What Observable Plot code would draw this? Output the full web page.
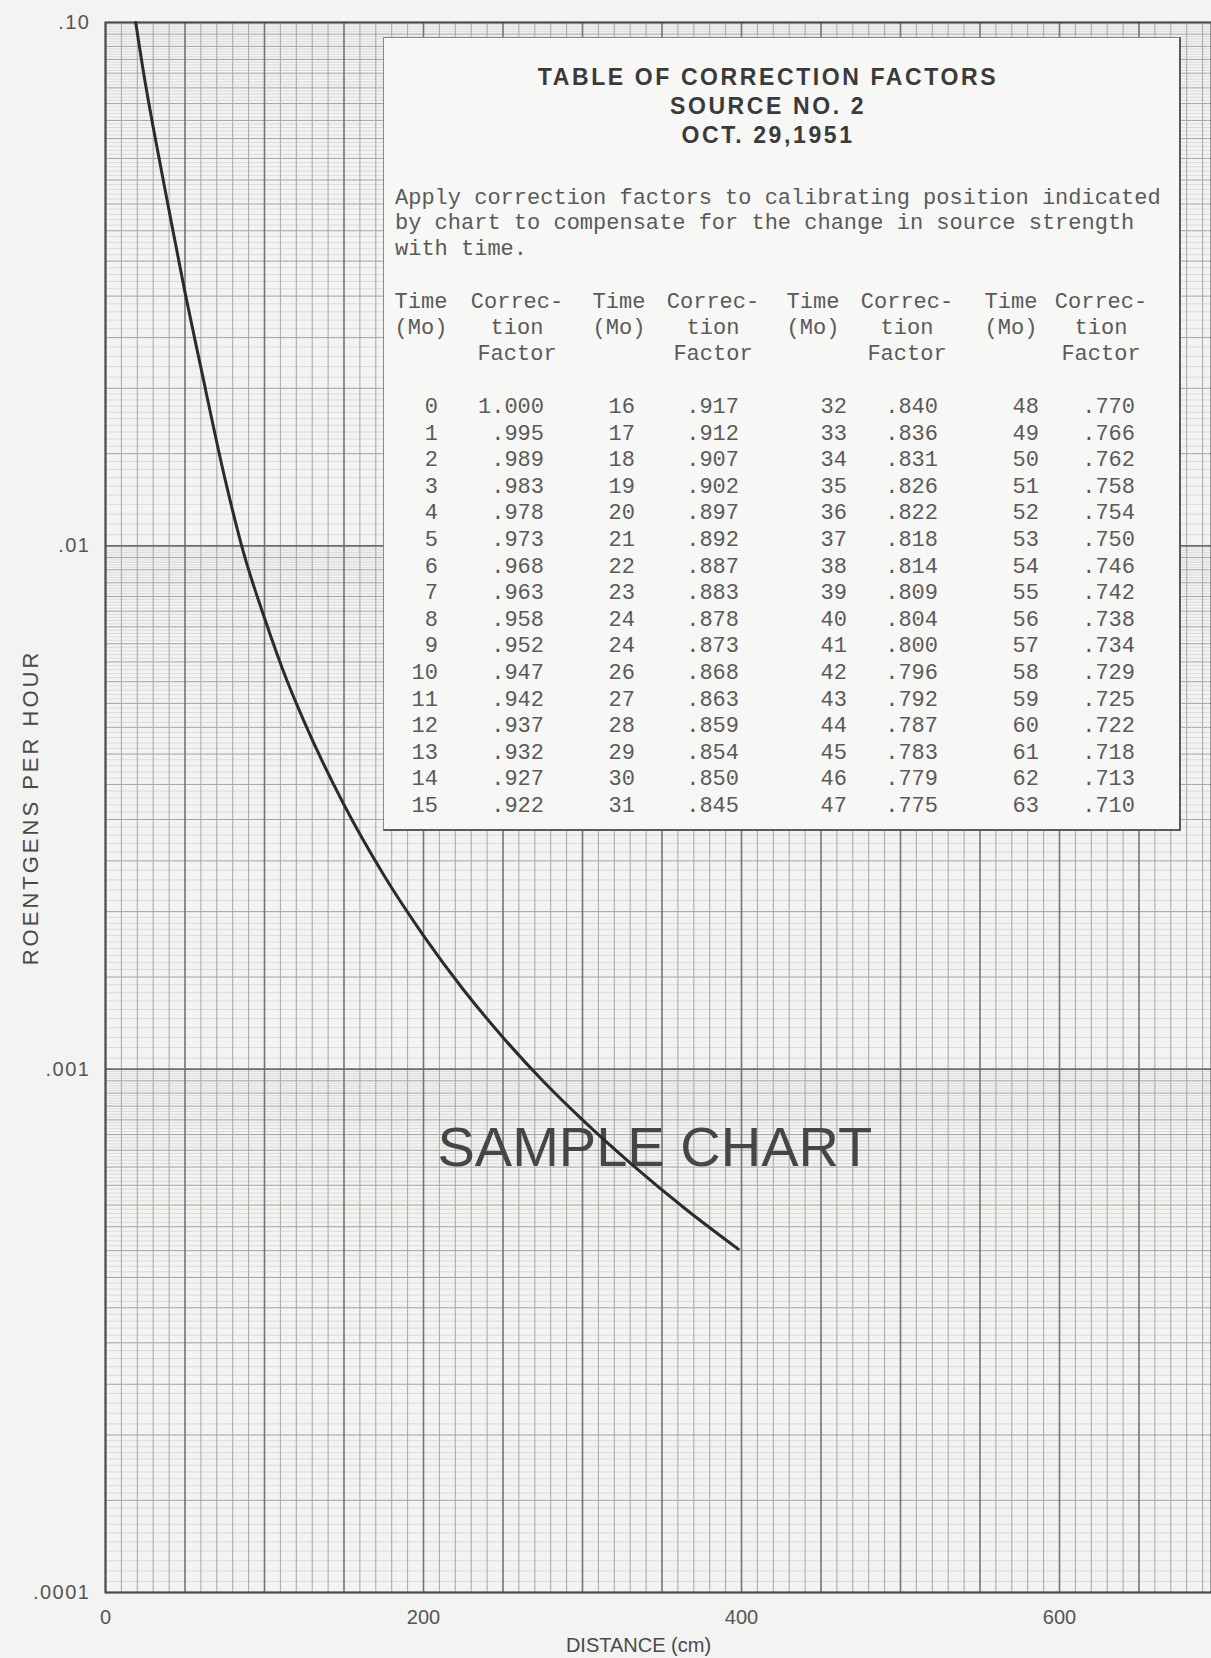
<!DOCTYPE html>
<html>
<head>
<meta charset="utf-8">
<script src="https://cdn.jsdelivr.net/npm/d3@7"></script>
<script src="https://cdn.jsdelivr.net/npm/@observablehq/plot@0.6"></script>
<style>
html,body{margin:0;padding:0;background:#f3f3f1;}
#wrap{position:relative;width:1211px;height:1658px;overflow:hidden;background:#f3f3f1;}
#wrap svg{position:absolute;left:0;top:0;}
#box{position:absolute;left:383px;top:37px;width:798px;height:794px;background:#f7f7f5;border-left:1px solid #8a8a8a;border-top:1px solid #8a8a8a;border-right:2px solid #5a5a5a;border-bottom:2px solid #5a5a5a;box-sizing:border-box;}
.t{position:absolute;white-space:pre;line-height:1;}
.title{font-family:"Liberation Sans",Arial,sans-serif;font-weight:bold;font-size:23px;letter-spacing:2.6px;color:#3a3a3a;}
.mono{font-family:"Liberation Mono","DejaVu Sans Mono",monospace;font-size:22px;color:#5a5a5a;}
</style>
</head>
<body>
<div id="wrap"></div>
<script>
// ---- data ----
const distanceCm = [19, 25, 30, 40, 50, 60, 75, 87, 100, 114, 125, 150, 175, 200, 225, 250, 275, 300, 331, 365, 398];
const roentgensPerHour = [0.100, 0.0767, 0.0631, 0.0437, 0.0305, 0.0219, 0.01349, 0.00966, 0.00728, 0.00554, 0.00461, 0.0032, 0.00235, 0.0018, 0.00142, 0.00115, 0.00095, 0.0008, 0.000658, 0.00054, 0.000453];

const xTicks = [0, 200, 400, 600];
const yTicks = [0.1, 0.01, 0.001, 0.0001];
const yTickLabels = [".10", ".01", ".001", ".0001"];

const tableTitle = ["TABLE OF CORRECTION FACTORS", "SOURCE NO. 2", "OCT. 29,1951"];
const tableNote = ["Apply correction factors to calibrating position indicated",
                   "by chart to compensate for the change in source strength",
                   "with time."];
const headTime = ["Time", "(Mo)", ""];
const headFactor = ["Correc-", "tion", "Factor"];
const months = [0,1,2,3,4,5,6,7,8,9,10,11,12,13,14,15,
                16,17,18,19,20,21,22,23,24,24,26,27,28,29,30,31,
                32,33,34,35,36,37,38,39,40,41,42,43,44,45,46,47,
                48,49,50,51,52,53,54,55,56,57,58,59,60,61,62,63];
const factors = ["1.000",".995",".989",".983",".978",".973",".968",".963",".958",".952",".947",".942",".937",".932",".927",".922",
                 ".917",".912",".907",".902",".897",".892",".887",".883",".878",".873",".868",".863",".859",".854",".850",".845",
                 ".840",".836",".831",".826",".822",".818",".814",".809",".804",".800",".796",".792",".787",".783",".779",".775",
                 ".770",".766",".762",".758",".754",".750",".746",".742",".738",".734",".729",".725",".722",".718",".713",".710"];
const annotation = "SAMPLE CHART";
const xLabel = "DISTANCE (cm)";
const yLabel = "ROENTGENS PER HOUR";

// ---- build ----
const curve = distanceCm.map((d, i) => ({d, r: roentgensPerHour[i]}));
const yLabelMap = new Map(yTicks.map((v, i) => [v, yTickLabels[i]]));

// graph-paper rulings (log cycles and 10 cm divisions)
const yFine = [], yMid = [], yDecade = [];
for (const e of [-4, -3, -2]) {
  const b = Math.pow(10, e);
  for (let k = 0; k < 900; k++) {
    const m = 1 + k * 0.01;
    if (m >= 10) break;
    const r100 = Math.round(m * 100);
    const fineStep = m < 2 ? 5 : 10;
    if (r100 % fineStep !== 0) continue;
    const v = r100 / 100 * b;
    if (r100 === 100) yDecade.push(v);
    else if (r100 % 50 === 0) yMid.push(v);
    else yFine.push(v);
  }
}
yDecade.push(0.1);
const xMinor = d3.range(0, 700, 10).filter(v => v % 50 !== 0);
const xMajor = d3.range(0, 700, 50);

const W = 1211, H = 1658, ML = 105, MT = 22, MB = 66;
const pxPerCm = 1.59;

const plot = Plot.plot({
  width: W, height: H,
  marginLeft: ML, marginRight: 0, marginTop: MT, marginBottom: MB,
  style: {background: "transparent", fontFamily: "'Liberation Sans', Arial, sans-serif", color: "#555"},
  x: {domain: [0, (W - ML) / pxPerCm]},
  y: {type: "log", domain: [0.0001, 0.1]},
  marks: [
    Plot.ruleY(yFine, {stroke: "#cbcbc9", strokeWidth: 0.6}),
    Plot.ruleY(yMid, {stroke: "#a3a3a1", strokeWidth: 1}),
    Plot.ruleX(xMinor, {stroke: "#a6a6a4", strokeWidth: 1}),
    Plot.ruleX(xMajor, {stroke: "#747472", strokeWidth: 1.6}),
    Plot.ruleY(yDecade, {stroke: "#6a6a68", strokeWidth: 1.6}),
    Plot.frame({stroke: "#4a4a4a", strokeWidth: 2}),
    Plot.text([annotation], {frameAnchor: "top-left", dx: 437 - ML, dy: 1148 - MT, textAnchor: "start", lineAnchor: "middle", fontSize: 56, fill: "#464646"}),
    Plot.line(curve, {x: "d", y: "r", curve: "monotone-x", stroke: "#2b2b2b", strokeWidth: 3}),
    Plot.axisX(xTicks, {tickSize: 0, tickPadding: 17, fontSize: 20, fill: "#555", label: null}),
    Plot.axisY(yTicks, {tickSize: 0, tickPadding: 15, fontSize: 20, fill: "#555", tickFormat: d => yLabelMap.get(d), label: null}),
    Plot.text([xLabel], {frameAnchor: "bottom", textAnchor: "middle", dx: -20, dy: 53, fontSize: 20, fill: "#4a4a4a", lineAnchor: "middle"}),
    Plot.text([yLabel], {frameAnchor: "left", textAnchor: "middle", dx: -75, rotate: -90, fontSize: 22, fill: "#4a4a4a", lineAnchor: "middle"})
  ]
});

const wrap = document.getElementById("wrap");
wrap.appendChild(plot);
plot.querySelectorAll("text").forEach(t => {
  if (t.textContent === yLabel) t.style.letterSpacing = "3px";
  if (yTickLabels.includes(t.textContent)) t.style.letterSpacing = "1.5px";
});

// ---- correction-factor table (overlay card) ----
const box = document.createElement("div");
box.id = "box";
wrap.appendChild(box);

function put(txt, x, y, cls, anchor) {
  const s = document.createElement("div");
  s.className = "t " + cls;
  s.textContent = txt;
  s.style.left = x + "px";
  s.style.top = y + "px";
  const tx = anchor === "end" ? "-100%" : anchor === "middle" ? "-50%" : "0";
  s.style.transform = `translate(${tx},-50%)`;
  wrap.appendChild(s);
}

const titleY = [77, 106, 135];
tableTitle.forEach((t, i) => put(t, 768, titleY[i], "title", "middle"));
const noteY = [199, 224, 250];
tableNote.forEach((t, i) => put(t, 395, noteY[i], "mono", "start"));

const timeCenters = [421, 619, 813, 1011];
const factorCenters = [517, 713, 907, 1101];
const timeRight = [438, 635, 847, 1039];
const factorRight = [544, 739, 938, 1135];
const headY = [303, 329, 355];
for (let c = 0; c < 4; c++) {
  headTime.forEach((h, i) => { if (h) put(h, timeCenters[c], headY[i], "mono", "middle"); });
  headFactor.forEach((h, i) => put(h, factorCenters[c], headY[i], "mono", "middle"));
  for (let r = 0; r < 16; r++) {
    const k = c * 16 + r;
    const y = 408 + r * 26.6;
    put(String(months[k]), timeRight[c], y, "mono", "end");
    put(factors[k], factorRight[c], y, "mono", "end");
  }
}
</script>
</body>
</html>
